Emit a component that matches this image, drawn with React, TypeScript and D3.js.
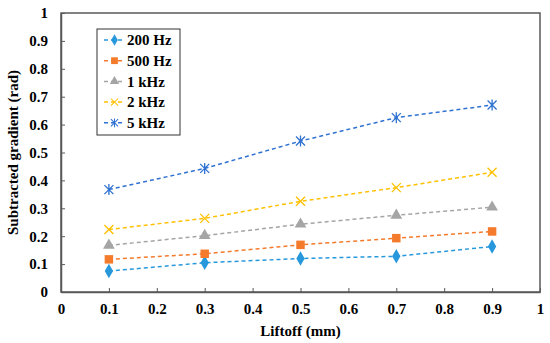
import { useEffect, useRef } from "react"
import * as d3 from "d3"

const liftoff = [0.1, 0.3, 0.5, 0.7, 0.9]
const seriesNames = ["200 Hz", "500 Hz", "1 kHz", "2 kHz", "5 kHz"]
const hz200 = [0.075, 0.105, 0.12, 0.128, 0.163]
const hz500 = [0.117, 0.137, 0.169, 0.193, 0.217]
const khz1 = [0.167, 0.202, 0.243, 0.275, 0.304]
const khz2 = [0.224, 0.264, 0.325, 0.374, 0.429]
const khz5 = [0.367, 0.443, 0.541, 0.625, 0.67]
const xTicks = [0, 0.1, 0.2, 0.3, 0.4, 0.5, 0.6, 0.7, 0.8, 0.9, 1]
const yTicks = [0, 0.1, 0.2, 0.3, 0.4, 0.5, 0.6, 0.7, 0.8, 0.9, 1]

const colors = ["#2898dc", "#f47b2c", "#a5a5a5", "#ffc000", "#2f72d2"]
const markers = ["diamond", "square", "triangle", "x", "star"]

export default function App() {
    const ref = useRef<SVGSVGElement>(null)

    useEffect(() => {
        const svg = d3.select(ref.current)
        svg.selectAll("*").remove()

        const margin = { top: 13, left: 61, right: 10, bottom: 51 }
        const width = 550 - margin.left - margin.right
        const height = 343 - margin.top - margin.bottom
        const font = "Liberation Serif"
        const axisColor = "#595959"

        const x = d3.scaleLinear().domain([0, 1]).range([0, width])
        const y = d3.scaleLinear().domain([0, 1]).range([height, 0])

        const g = svg.append("g")
            .attr("transform", `translate(${margin.left}, ${margin.top})`)

        const label = (sel: any) => sel
            .attr("font-family", font)
            .attr("font-size", 15)
            .attr("font-weight", "bold")
            .attr("fill", "#000")

        // frame
        g.append("rect")
            .attr("x", 0).attr("y", 0)
            .attr("width", width).attr("height", height)
            .attr("fill", "none")
            .attr("stroke", axisColor)
            .attr("stroke-width", 1.5)

        const xAxis = d3.axisBottom(x).tickValues(xTicks).tickSizeInner(-4).tickSizeOuter(0)
            .tickPadding(11).tickFormat((d) => d3.format("")(+d))
        const gx = g.append("g").attr("transform", `translate(0, ${height})`).call(xAxis)
        gx.select(".domain").attr("stroke", axisColor).attr("stroke-width", 1.5)
        gx.selectAll("line").attr("stroke", axisColor)
        gx.selectAll("text").call(label)

        const yAxis = d3.axisLeft(y).tickValues(yTicks).tickSizeInner(-4).tickSizeOuter(0)
            .tickPadding(13).tickFormat((d) => d3.format("")(+d))
        const gy = g.append("g").call(yAxis)
        gy.select(".domain").attr("stroke", axisColor).attr("stroke-width", 1.5)
        gy.selectAll("line").attr("stroke", axisColor)
        gy.selectAll("text").call(label)

        g.append("text")
            .attr("x", width / 2).attr("y", height + 44)
            .attr("text-anchor", "middle")
            .call(label)
            .text("Liftoff (mm)")

        g.append("text")
            .attr("transform", `translate(${-43}, ${height / 2}) rotate(-90)`)
            .attr("text-anchor", "middle")
            .call(label)
            .text("Subtracted gradient (rad)")

        const allSeries = [hz200, hz500, khz1, khz2, khz5]

        const line = d3.line<number>()
            .x((d, i) => x(liftoff[i]))
            .y((d) => y(d))

        const drawMarker = (sel: any, kind: string, color: string) => {
            if (kind === "diamond") {
                sel.append("path").attr("d", d3.symbol(d3.symbolDiamond, 60)()).attr("fill", color)
            } else if (kind === "square") {
                sel.append("path").attr("d", d3.symbol(d3.symbolSquare, 72)()).attr("fill", color)
            } else if (kind === "triangle") {
                sel.append("path").attr("d", d3.symbol(d3.symbolTriangle, 60)()).attr("fill", color)
            } else if (kind === "x") {
                sel.append("path").attr("d", "M-4.5,-4.5L4.5,4.5M-4.5,4.5L4.5,-4.5").attr("stroke", color).attr("stroke-width", 1.3).attr("fill", "none")
            } else {
                sel.append("path").attr("d", "M-4.5,-4.5L4.5,4.5M-4.5,4.5L4.5,-4.5M0,-5.5L0,5.5").attr("stroke", color).attr("stroke-width", 1.3).attr("fill", "none")
            }
        }

        allSeries.forEach((vals, si) => {
            g.append("path")
                .datum(vals)
                .attr("fill", "none")
                .attr("stroke", colors[si])
                .attr("stroke-width", 1.5)
                .attr("stroke-dasharray", "4,3")
                .attr("d", line)

            vals.forEach((v, i) => {
                const m = g.append("g").attr("transform", `translate(${x(liftoff[i])}, ${y(v)})`)
                drawMarker(m, markers[si], colors[si])
            })
        })

        // legend
        const legend = g.append("g").attr("transform", "translate(36, 16)")
        legend.append("rect")
            .attr("x", 0).attr("y", 0)
            .attr("width", 83).attr("height", 106)
            .attr("fill", "#fff")
            .attr("stroke", "#333")
            .attr("stroke-width", 1)

        seriesNames.forEach((name, i) => {
            const ly = 11 + i * 20.7
            const item = legend.append("g").attr("transform", `translate(0, ${ly})`)
            item.append("line")
                .attr("x1", 7).attr("x2", 28)
                .attr("y1", 0).attr("y2", 0)
                .attr("stroke", colors[i])
                .attr("stroke-width", 1.5)
                .attr("stroke-dasharray", "4,3")
            const m = item.append("g").attr("transform", "translate(17.5, 0) scale(0.8)")
            drawMarker(m, markers[i], colors[i])
            item.append("text")
                .attr("x", 30).attr("y", 0)
                .attr("dy", "0.35em")
                .call(label)
                .text(name)
        })
    }, [])

    return (
        <svg ref={ref} width={550} height={343} style={{ position: "absolute", left: 0, top: 0, background: "#fff" }}></svg>
    )
}
